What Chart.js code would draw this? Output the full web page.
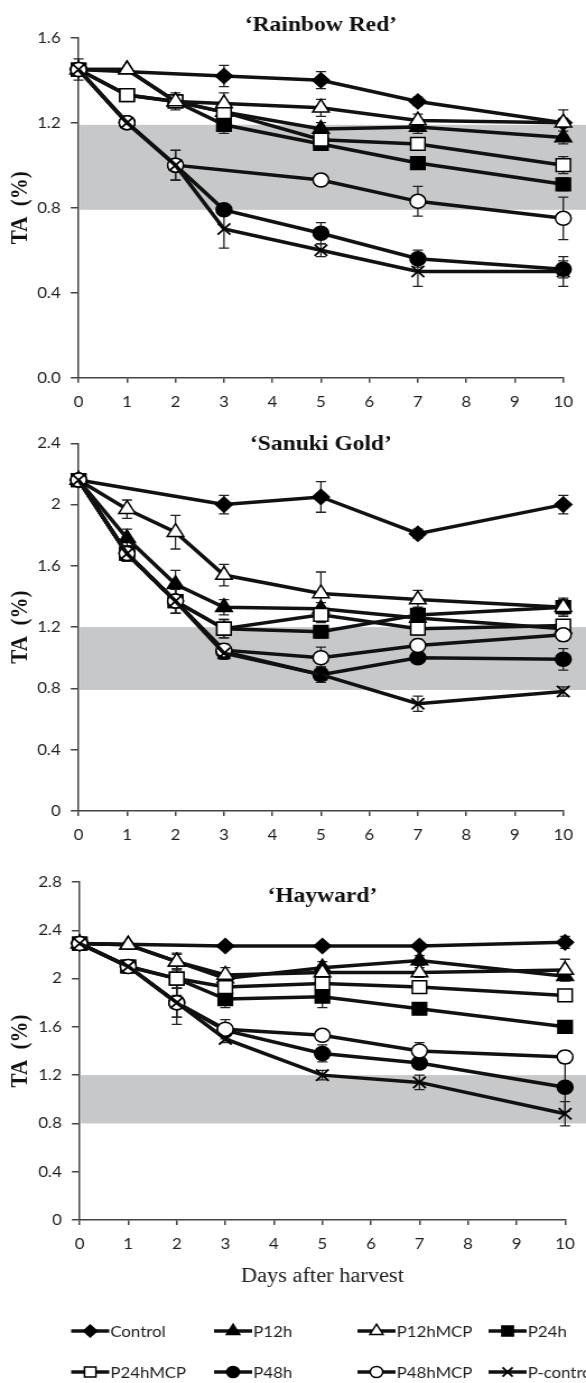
<!DOCTYPE html>
<html lang="en">
<head>
<meta charset="UTF-8">
<title>TA after harvest</title>
<script src="https://cdn.jsdelivr.net/npm/chart.js"></script>
<style>
  body { margin: 0; background: #fff; overflow: hidden; }
  .panel { position: absolute; left: 0; transform: scaleX(1.1205); transform-origin: 0 0; }
  canvas { display: block; }
</style>
</head>
<body>
<div class="panel" style="top:0"><canvas id="rr" width="523" height="420"></canvas></div>
<div class="panel" style="top:420px"><canvas id="sg" width="523" height="440"></canvas></div>
<div class="panel" style="top:860px"><canvas id="hw" width="523" height="523"></canvas></div>

<script>
    // sampling days
    const days = [0, 1, 2, 3, 5, 7, 10];
    const controlDays = [0, 3, 5, 7, 10];
    const seriesNames = ['Control', 'P12h', 'P12hMCP', 'P24h', 'P24hMCP', 'P48h', 'P48hMCP', 'P-control'];
    const xTickLabels = ['0', '1', '2', '3', '4', '5', '6', '7', '8', '9', '10'];

    // 'Rainbow Red'
    const rrControl = [1.45, 1.42, 1.40, 1.30, 1.20];
    const rrP12h = [1.45, 1.45, 1.30, 1.25, 1.17, 1.18, 1.13];
    const rrP12hMCP = [1.45, 1.45, 1.30, 1.29, 1.27, 1.21, 1.20];
    const rrP24h = [1.45, 1.33, 1.30, 1.19, 1.10, 1.01, 0.91];
    const rrP24hMCP = [1.45, 1.33, 1.30, 1.25, 1.12, 1.10, 1.00];
    const rrP48h = [1.45, 1.20, 1.00, 0.79, 0.68, 0.56, 0.51];
    const rrP48hMCPDays = [0, 1, 2, 5, 7, 10];
    const rrP48hMCP = [1.45, 1.20, 1.00, 0.93, 0.83, 0.75];
    const rrPcontrol = [1.45, 1.20, 1.00, 0.70, 0.60, 0.50, 0.50];
    const rrControlErr = [0.05, 0.05, 0.04, 0.02, 0.02];
    const rrP12hErr = [0, 0, 0.02, 0.04, 0.03, 0.03, 0.03];
    const rrP12hMCPErr = [0, 0, 0.02, 0.05, 0.04, 0.03, 0.06];
    const rrP24hErr = [0, 0, 0.02, 0.04, 0.03, 0.02, 0.03];
    const rrP24hMCPErr = [0, 0, 0.04, 0.03, 0.03, 0.02, 0.04];
    const rrP48hErr = [0, 0, 0.07, 0.02, 0.05, 0.04, 0.04];
    const rrP48hMCPErr = [0, 0, 0.07, 0.02, 0.07, 0.10];
    const rrPcontrolErr = [0, 0, 0.07, 0.09, 0.03, 0.07, 0.07];
    const rrYTicks = ['0.0', '0.4', '0.8', '1.2', '1.6'];
    const rrBand = [0.79, 1.19];

    // 'Sanuki Gold'
    const sgControl = [2.16, 2.00, 2.05, 1.81, 2.00];
    const sgP12h = [2.16, 1.78, 1.48, 1.33, 1.32, 1.26, 1.19];
    const sgP12hMCP = [2.16, 1.97, 1.82, 1.54, 1.42, 1.38, 1.33];
    const sgP24h = [2.16, 1.68, 1.37, 1.19, 1.17, 1.28, 1.33];
    const sgP24hMCP = [2.16, 1.68, 1.37, 1.19, 1.28, 1.19, 1.21];
    const sgP48h = [2.16, 1.68, 1.37, 1.04, 0.89, 1.00, 0.99];
    const sgP48hMCP = [2.16, 1.68, 1.37, 1.05, 1.00, 1.08, 1.15];
    const sgPcontrol = [2.16, 1.68, 1.37, 1.03, 0.89, 0.70, 0.78];
    const sgControlErr = [0.02, 0.06, 0.10, 0.03, 0.06];
    const sgP12hErr = [0.02, 0.06, 0.09, 0.05, 0.04, 0.04, 0.04];
    const sgP12hMCPErr = [0.02, 0.06, 0.11, 0.07, 0.14, 0.06, 0.06];
    const sgP24hErr = [0.02, 0.05, 0.08, 0.06, 0.04, 0.05, 0.05];
    const sgP24hMCPErr = [0.02, 0.05, 0.08, 0.06, 0.05, 0.04, 0.03];
    const sgP48hErr = [0.02, 0.05, 0.08, 0.04, 0.05, 0.03, 0.07];
    const sgP48hMCPErr = [0.02, 0.05, 0.08, 0.04, 0.07, 0.04, 0.04];
    const sgPcontrolErr = [0.02, 0.05, 0.08, 0.04, 0.05, 0.05, 0.03];
    const sgYTicks = ['0', '0.4', '0.8', '1.2', '1.6', '2', '2.4'];
    const sgBand = [0.79, 1.20];

    // 'Hayward'
    const hwControl = [2.29, 2.27, 2.27, 2.27, 2.30];
    const hwP12h = [2.29, 2.28, 2.14, 2.00, 2.09, 2.15, 2.02];
    const hwP12hMCP = [2.29, 2.28, 2.14, 2.03, 2.05, 2.05, 2.07];
    const hwP24h = [2.29, 2.10, 2.00, 1.83, 1.85, 1.75, 1.60];
    const hwP24hMCP = [2.29, 2.10, 2.00, 1.93, 1.96, 1.93, 1.86];
    const hwP48h = [2.29, 2.10, 1.80, 1.57, 1.38, 1.30, 1.10];
    const hwP48hMCP = [2.29, 2.10, 1.80, 1.58, 1.53, 1.40, 1.35];
    const hwPcontrol = [2.29, 2.10, 1.80, 1.50, 1.20, 1.14, 0.88];
    const hwControlErr = [0.02, 0.02, 0.02, 0.02, 0.05];
    const hwP12hErr = [0.02, 0.02, 0.06, 0.04, 0.05, 0.04, 0.03];
    const hwP12hMCPErr = [0.02, 0.02, 0.07, 0.06, 0.06, 0.04, 0.09];
    const hwP24hErr = [0.02, 0.02, 0.08, 0.07, 0.09, 0.03, 0.03];
    const hwP24hMCPErr = [0.02, 0.02, 0.14, 0.04, 0.04, 0.03, 0.03];
    const hwP48hErr = [0.02, 0.02, 0.18, 0.05, 0.07, 0.04, 0.20];
    const hwP48hMCPErr = [0.02, 0.02, 0.12, 0.08, 0.04, 0.07, 0.05];
    const hwPcontrolErr = [0.02, 0.02, 0.12, 0.03, 0.04, 0.06, 0.10];
    const hwYTicks = ['0', '0.4', '0.8', '1.2', '1.6', '2', '2.4', '2.8'];
    const hwBand = [0.80, 1.20];

    // marker look for each treatment, same order as seriesNames (z: lower is drawn on top)
    const markers = [
      { style: 'rectRot', r: 7.5, fill: '#000', bw: 1.5, z: 7 },
      { style: 'triangle', r: 8.5, fill: '#000', bw: 1.5, z: 5 },
      { style: 'triangle', r: 8.5, fill: '#fff', bw: 1.5, z: 2 },
      { style: 'rect', r: 9, fill: '#000', bw: 1.5, z: 6 },
      { style: 'rect', r: 9, fill: '#fff', bw: 1.5, z: 3 },
      { style: 'circle', r: 7, fill: '#000', bw: 1.5, z: 4 },
      { style: 'circle', r: 7, fill: '#fff', bw: 1.5, z: 1 },
      { style: 'crossRot', r: 8, fill: '#fff', bw: 1.8, z: 0 }
    ];

    const tickFont = { family: 'Lato', size: 15 };
    const axisColor = '#444';

    const toDatasets = (list) => list.map((s, i) => {
      const m = markers[i];
      return {
        label: seriesNames[i],
        data: s[0].map((d, j) => ({ x: d, y: s[1][j], err: s[2][j] })),
        borderColor: '#111',
        borderWidth: 3.5,
        pointStyle: m.style,
        pointRadius: m.r,
        pointBackgroundColor: m.fill,
        pointBorderColor: '#000',
        pointBorderWidth: m.bw,
        order: m.z,
        clip: false,
        tension: 0,
        fill: false
      };
    });

    // grey reference band, runs to the right edge of the figure
    const bandPlugin = {
      id: 'band',
      beforeDraw(chart, args, opts) {
        const { ctx, chartArea, scales } = chart;
        const top = scales.y.getPixelForValue(opts.range[1]);
        const bottom = scales.y.getPixelForValue(opts.range[0]);
        ctx.save();
        ctx.fillStyle = '#c7c8ca';
        ctx.fillRect(chartArea.left + 1, top, chart.width - chartArea.left - 1, bottom - top);
        ctx.restore();
      }
    };

    // vertical error bars with caps
    const errorBars = {
      id: 'errorBars',
      beforeDatasetsDraw(chart) {
        const ctx = chart.ctx;
        const y = chart.scales.y;
        ctx.save();
        ctx.strokeStyle = '#222';
        ctx.lineWidth = 1.3;
        chart.data.datasets.forEach((ds, i) => {
          const meta = chart.getDatasetMeta(i);
          ds.data.forEach((p, j) => {
            if (!p.err) return;
            const px = meta.data[j].x;
            const top = y.getPixelForValue(p.y + p.err);
            const bot = y.getPixelForValue(p.y - p.err);
            ctx.beginPath();
            ctx.moveTo(px, top); ctx.lineTo(px, bot);
            ctx.moveTo(px - 4.5, top); ctx.lineTo(px + 4.5, top);
            ctx.moveTo(px - 4.5, bot); ctx.lineTo(px + 4.5, bot);
            ctx.stroke();
          });
        });
        ctx.restore();
      }
    };

    // cultivar name inside the panel
    const panelTitle = {
      id: 'panelTitle',
      afterDraw(chart, args, opts) {
        const { ctx, chartArea } = chart;
        ctx.save();
        ctx.font = 'bold 21px "Liberation Serif"';
        ctx.fillStyle = '#111';
        ctx.textAlign = 'center';
        ctx.textBaseline = 'alphabetic';
        ctx.fillText(opts.text, (chartArea.left + chartArea.right) / 2, opts.y);
        ctx.restore();
      }
    };

    // shared legend under the last panel
    const legendBlock = {
      id: 'legendBlock',
      afterDraw(chart, args, opts) {
        if (!opts.show) return;
        const ctx = chart.ctx;
        const cols = [63.5, 191, 319, 436];
        const rows = [471, 512];
        ctx.save();
        chart.data.datasets.forEach((ds, i) => {
          const x = cols[i % 4];
          const y = rows[Math.floor(i / 4)];
          const m = markers[i];
          ctx.strokeStyle = '#111';
          ctx.lineWidth = 3.5;
          ctx.beginPath();
          ctx.moveTo(x, y); ctx.lineTo(x + 34, y);
          ctx.stroke();
          ctx.fillStyle = m.fill;
          ctx.strokeStyle = '#000';
          ctx.lineWidth = m.bw;
          Chart.helpers.drawPoint(ctx, { pointStyle: m.style, radius: m.r * 0.8, rotation: 0, borderWidth: m.bw }, x + 17, y);
          ctx.fillStyle = '#222';
          ctx.font = '15px Lato';
          ctx.textAlign = 'left';
          ctx.textBaseline = 'middle';
          ctx.fillText(ds.label, x + 35, y + 1);
        });
        ctx.restore();
      }
    };

    const makeChart = (id, cfg) => {
      const canvas = document.getElementById(id);
      const H = canvas.height;
      const W = canvas.width;
      return new Chart(canvas.getContext('2d'), {
        type: 'line',
        data: { datasets: toDatasets(cfg.series) },
        plugins: [bandPlugin, errorBars, panelTitle, legendBlock],
        options: {
          responsive: false,
          animation: false,
          events: [],
          layout: { padding: { top: cfg.area.top, right: W - cfg.area.right, left: 0, bottom: 0 } },
          plugins: {
            legend: { display: false },
            tooltip: { enabled: false },
            band: { range: cfg.band },
            panelTitle: { text: cfg.title, y: cfg.titleY },
            legendBlock: { show: !!cfg.legend }
          },
          scales: {
            x: {
              type: 'linear', min: 0, max: 10,
              afterFit: (s) => { s.height = H - cfg.area.bottom; },
              ticks: { stepSize: 1, autoSkip: false, maxRotation: 0, padding: 10, font: tickFont, color: '#222',
                callback: (v, i) => xTickLabels[i] },
              grid: { drawOnChartArea: false, tickLength: 5, color: axisColor, lineWidth: 1.5 },
              border: { color: axisColor, width: 1.5 },
              title: cfg.xTitle ? { display: true, text: cfg.xTitle, color: '#222',
                font: { family: 'Liberation Serif', size: 20 }, padding: { top: 0, bottom: 94 } } : { display: false }
            },
            y: {
              min: 0, max: cfg.yMax,
              afterFit: (s) => { s.width = cfg.area.left; },
              ticks: { stepSize: 0.4, padding: 9, font: tickFont, color: '#222',
                callback: (v, i) => cfg.yTicks[i] },
              grid: { drawOnChartArea: false, tickLength: 7, color: axisColor, lineWidth: 1.5 },
              border: { color: axisColor, width: 1.5 },
              title: { display: true, text: 'TA  (%)', color: '#111',
                font: { family: 'Liberation Serif', size: 21, weight: 'bold' }, padding: { top: 6, bottom: 0 } }
            }
          }
        }
      });
    };

    makeChart('rr', {
      series: [
        [controlDays, rrControl, rrControlErr],
        [days, rrP12h, rrP12hErr],
        [days, rrP12hMCP, rrP12hMCPErr],
        [days, rrP24h, rrP24hErr],
        [days, rrP24hMCP, rrP24hMCPErr],
        [days, rrP48h, rrP48hErr],
        [rrP48hMCPDays, rrP48hMCP, rrP48hMCPErr],
        [days, rrPcontrol, rrPcontrolErr]
      ],
      yMax: 1.6, yTicks: rrYTicks, band: rrBand,
      title: '\u2018Rainbow Red\u2019', titleY: 31,
      area: { left: 70.1, right: 502.7, top: 37.7, bottom: 377.7 }
    });

    makeChart('sg', {
      series: [
        [controlDays, sgControl, sgControlErr],
        [days, sgP12h, sgP12hErr],
        [days, sgP12hMCP, sgP12hMCPErr],
        [days, sgP24h, sgP24hErr],
        [days, sgP24hMCP, sgP24hMCPErr],
        [days, sgP48h, sgP48hErr],
        [days, sgP48hMCP, sgP48hMCPErr],
        [days, sgPcontrol, sgPcontrolErr]
      ],
      yMax: 2.4, yTicks: sgYTicks, band: sgBand,
      title: '\u2018Sanuki Gold\u2019', titleY: 30,
      area: { left: 70.1, right: 502.7, top: 23.3, bottom: 391 }
    });

    makeChart('hw', {
      series: [
        [controlDays, hwControl, hwControlErr],
        [days, hwP12h, hwP12hErr],
        [days, hwP12hMCP, hwP12hMCPErr],
        [days, hwP24h, hwP24hErr],
        [days, hwP24hMCP, hwP24hMCPErr],
        [days, hwP48h, hwP48hErr],
        [days, hwP48hMCP, hwP48hMCPErr],
        [days, hwPcontrol, hwPcontrolErr]
      ],
      yMax: 2.8, yTicks: hwYTicks, band: hwBand,
      title: '\u2018Hayward\u2019', titleY: 42,
      xTitle: 'Days after harvest',
      legend: true,
      area: { left: 71.1, right: 510.4, top: 22, bottom: 360 }
    });
</script>
</body>
</html>
